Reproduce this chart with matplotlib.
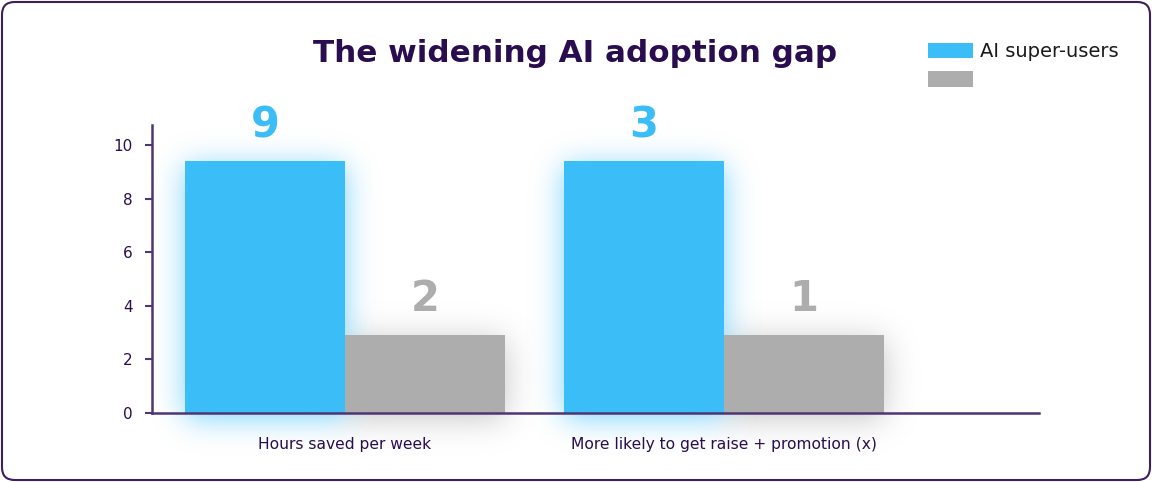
import matplotlib
matplotlib.use("Agg")
import matplotlib.pyplot as plt
from matplotlib.patches import FancyBboxPatch, Patch
import matplotlib.colors as mcolors
import numpy as np

# ---------------- data ----------------
categories = ["Hours saved per week", "More likely to get raise + promotion (x)"]
series_names = ["AI super-users", ""]
super_values = [9.4, 9.4]
other_values = [2.9, 2.9]
super_labels = ["9", "3"]
other_labels = ["2", "1"]
y_ticks = [0, 2, 4, 6, 8, 10]

# ---------------- style ----------------
BLUE = "#3bbdf8"
GRAY = "#adadad"
DARK = "#2a0d4e"
SPINE = "#4e3574"
FONT = "DejaVu Sans"
plt.rcParams["font.family"] = [FONT]

W, H = 1152, 482
fig = plt.figure(figsize=(W / 100, H / 100), dpi=100)
fig.patch.set_facecolor("white")

border = FancyBboxPatch((2 / W, 2 / H), 1 - 4 / W, 1 - 4 / H,
                        boxstyle="round,pad=0,rounding_size=0.011",
                        transform=fig.transFigure, facecolor="none",
                        edgecolor="#3a1f62", linewidth=1.5, mutation_aspect=W / H)
fig.add_artist(border)

ax_left, ax_bottom = 152 / W, 69 / H
ax_w, ax_h = (1039 - 152) / W, (413 - 125) / H
ax = fig.add_axes([ax_left, ax_bottom, ax_w, ax_h])

x = np.arange(len(categories))
bw = 0.422
ax.set_xlim(-0.509, 1.831)
ax.set_ylim(0, 10.75)

b1 = ax.bar(x - bw / 2, super_values, width=bw, color=BLUE, zorder=3, linewidth=0)
b2 = ax.bar(x + bw / 2, other_values, width=bw, color=GRAY, zorder=3, linewidth=0)


# ---------- soft glow / shadow behind bars (gaussian-blurred masks) ----------
def gauss_blur(a, sigma):
    r = int(3 * sigma)
    k = np.exp(-0.5 * (np.arange(-r, r + 1) / sigma) ** 2)
    k /= k.sum()
    a = np.apply_along_axis(lambda v: np.convolve(v, k, mode="same"), 1, a)
    a = np.apply_along_axis(lambda v: np.convolve(v, k, mode="same"), 0, a)
    return a


def bar_mask(bars, dy=0):
    m = np.zeros((H, W))
    for rect in bars:
        (x0, y0), (x1, y1) = ax.transData.transform(
            [(rect.get_x(), rect.get_y()),
             (rect.get_x() + rect.get_width(), rect.get_y() + rect.get_height())])
        r0, r1 = int(round(H - y1)) + dy, int(round(H - y0)) + dy
        c0, c1 = int(round(x0)), int(round(x1))
        m[max(r0, 0):max(r1, 0), max(c0, 0):max(c1, 0)] = 1.0
    return m


blue_a = np.clip(gauss_blur(bar_mask(b1, 5), 15) * 0.8, 0, 1)
gray_a = np.clip(gauss_blur(bar_mask(b2, 5), 16) * 0.5, 0, 1)


def rgba_layer(color, alpha):
    rgb = np.array(mcolors.to_rgb(color))
    img = np.zeros((H, W, 4))
    img[..., :3] = rgb
    img[..., 3] = alpha
    return img


fig.figimage(rgba_layer("#8a8a8a", gray_a), 0, 0, zorder=-2, origin="upper")
fig.figimage(rgba_layer("#5cc8fa", blue_a), 0, 0, zorder=-1, origin="upper")

for xi, v, lab in zip(x - bw / 2, super_values, super_labels):
    ax.annotate(lab, (xi, v), xytext=(0, 26), textcoords="offset points",
                ha="center", va="center", fontsize=30, fontweight="bold",
                color=BLUE, zorder=5)
for xi, v, lab in zip(x + bw / 2, other_values, other_labels):
    ax.annotate(lab, (xi, v), xytext=(0, 26), textcoords="offset points",
                ha="center", va="center", fontsize=30, fontweight="bold",
                color=GRAY, zorder=5)

for s in ["top", "right"]:
    ax.spines[s].set_visible(False)
for s in ["left", "bottom"]:
    ax.spines[s].set_color(SPINE)
    ax.spines[s].set_linewidth(1.8)
    ax.spines[s].set_zorder(6)

ax.set_yticks(y_ticks)
ax.tick_params(axis="y", length=5, width=1.5, color=SPINE, pad=9,
               labelsize=11, labelcolor=DARK)
ax.set_xticks(x)
ax.set_xticklabels(categories)
ax.tick_params(axis="x", length=0, pad=17, labelsize=11.2, labelcolor=DARK)
for t in ax.get_xticklabels() + ax.get_yticklabels():
    t.set_fontweight("medium")
ax.set_facecolor("none")

fig.text(575 / W, 1 - 53 / H, "The widening AI adoption gap", ha="center",
         va="center", fontsize=22.3, fontweight="bold", color=DARK)

handles = [Patch(facecolor=BLUE, edgecolor="none"), Patch(facecolor=GRAY, edgecolor="none")]
fig.legend(handles, series_names, loc="upper left",
           bbox_to_anchor=(928 / W, 1 - 42 / H), frameon=False,
           fontsize=14, handlelength=2.3, handleheight=0.85,
           handletextpad=0.38, labelspacing=0.5, borderpad=0, borderaxespad=0,
           labelcolor="#1a1a1a")

fig.savefig("out.png", dpi=100, facecolor="white")
